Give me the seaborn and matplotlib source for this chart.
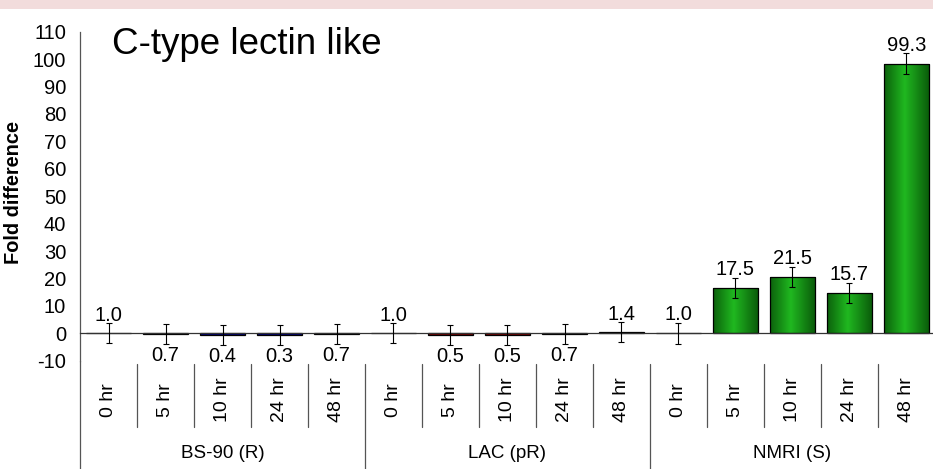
import numpy as np
import pandas as pd
import seaborn as sns
import matplotlib
matplotlib.use("Agg")
import matplotlib.pyplot as plt
from matplotlib import transforms
from matplotlib.patches import Rectangle
from matplotlib.lines import Line2D
from matplotlib.colors import LinearSegmentedColormap

# ---------------- data ----------------
groups = ["BS-90 (R)", "LAC (pR)", "NMRI (S)"]
times = ["0 hr", "5 hr", "10 hr", "24 hr", "48 hr"]
bs90_fold = [1.0, 0.7, 0.4, 0.3, 0.7]
lac_fold = [1.0, 0.5, 0.5, 0.7, 1.4]
nmri_fold = [1.0, 17.5, 21.5, 15.7, 99.3]
bs90_err = [3.7, 3.7, 3.7, 3.6, 3.7]
lac_err = [3.7, 3.7, 3.7, 3.7, 3.6]
nmri_err = [3.8, 3.7, 3.7, 3.7, 3.8]
title = "C-type lectin like"
ylabel = "Fold difference"
yticks = list(range(-10, 111, 10))

folds = bs90_fold + lac_fold + nmri_fold
errs = bs90_err + lac_err + nmri_err
df = pd.DataFrame({
    "group": [g for g in groups for _ in times],
    "time": times * len(groups),
    "fold": folds,
    "err": errs,
})
df["key"] = df["group"] + "|" + df["time"]
df["height"] = df["fold"] - 1.0   # bars drawn as change from baseline 1.0

# ---------------- figure ----------------
W, H = 933, 469
sns.set_style("white")
plt.rcParams["font.family"] = ["Liberation Sans", "DejaVu Sans"]
plt.rcParams["text.color"] = "black"
plt.rcParams["xtick.color"] = "black"
plt.rcParams["ytick.color"] = "black"
plt.rcParams["axes.labelcolor"] = "black"
fig = plt.figure(figsize=(W / 100, H / 100), dpi=100)
fig.patch.set_facecolor("white")
fig.patches.append(Rectangle((0, 1 - 9 / H), 1, 9 / H, transform=fig.transFigure,
                             facecolor="#f2dcdc", edgecolor="none", zorder=0))

ax_left, ax_top, ax_bot, cat_w = 80, 31.7, 360.7, 57.0
ax = fig.add_axes([ax_left / W, 1 - ax_bot / H, 15 * cat_w / W, (ax_bot - ax_top) / H])

palette = {"BS-90 (R)": "#000080", "LAC (pR)": "#800000", "NMRI (S)": "#1aa81a"}
sns.barplot(data=df, x="key", y="height", hue="group", palette=palette, dodge=False,
            width=0.8, saturation=1, errorbar=None, edgecolor="black", linewidth=0.9,
            legend=False, ax=ax)

ax.set_xlim(-0.5, 14.5)
ax.set_ylim(-10, 110)

# gradient fill for green bars
gcmap = LinearSegmentedColormap.from_list(
    "g", [(0, "#0c620c"), (0.45, "#20b820"), (1, "#0a5a0a")])
grad = np.linspace(0, 1, 64).reshape(1, -1)
xs = np.arange(len(df))
for p in ax.patches:
    fc = p.get_facecolor()
    if fc[1] > 0.5 and fc[0] < 0.3 and p.get_height() > 0:
        x0, y0 = p.get_x(), p.get_y()
        x1, y1 = x0 + p.get_width(), y0 + p.get_height()
        im = ax.imshow(grad, extent=[x0, x1, y0, y1], aspect="auto", cmap=gcmap,
                       zorder=p.get_zorder() - 0.05, interpolation="bilinear")
        im.set_clip_path(p)
        p.set_facecolor("none")
ax.set_xlim(-0.5, 14.5)
ax.set_ylim(-10, 110)
ax.set_aspect("auto")

# error bars
ax.errorbar(xs, df["height"], yerr=df["err"], fmt="none", ecolor="black",
            elinewidth=0.8, capsize=2.5, capthick=0.8, zorder=5)

# value labels
for i, (f, h, e) in enumerate(zip(df["fold"], df["height"], df["err"])):
    if h >= 0:
        ax.annotate(f"{f:.1f}", (i, h + e), xytext=(0, 1.8), textcoords="offset points",
                    ha="center", va="baseline", fontsize=14.5, zorder=6)
    else:
        ax.annotate(f"{f:.1f}", (i, h - e), xytext=(0, -1.5), textcoords="offset points",
                    ha="center", va="top", fontsize=14.5, zorder=6)

# axes styling
for s in ["top", "right"]:
    ax.spines[s].set_visible(False)
ax.spines["bottom"].set_position(("data", 0))
ax.spines["bottom"].set_color("#333333")
ax.spines["left"].set_color("#555555")
ax.spines["bottom"].set_linewidth(0.9)
ax.spines["left"].set_linewidth(0.9)
ax.set_xticks(np.arange(-0.5, 15, 1.0))
ax.set_xticklabels([])
ax.set_yticks(yticks)
ax.set_yticklabels([str(t) for t in yticks], fontsize=14.5)
ax.tick_params(axis="x", direction="out", length=4, width=0.8, color="#555555")
ax.tick_params(axis="y", direction="out", length=4.5, width=0.8, color="#555555", pad=5.5)
ax.set_xlabel("")
ax.set_ylabel("")

fig.text(14 / W, 1 - 192 / H, ylabel, rotation=90, ha="center", va="center",
         fontsize=14.4, fontweight="bold")
fig.text(112 / W, 1 - 54 / H, title, ha="left", va="baseline", fontsize=26.5)

# category axis below the plot
bt = transforms.blended_transform_factory(ax.transData, fig.transFigure)
def fy(px):
    return 1 - px / H

for i, t in enumerate(df["time"]):
    ax.text(i, fy(400), t, rotation=90, ha="center", va="center", fontsize=14,
            transform=bt, clip_on=False)
for gi, g in enumerate(groups):
    ax.text(gi * 5 + 2, fy(453), g, ha="center", va="center", fontsize=13.5,
            transform=bt, clip_on=False)
for b in np.arange(0.5, 14, 1.0):
    if abs((b + 0.5) % 5) < 1e-9:
        continue
    ax.add_line(Line2D([b, b], [fy(364), fy(427)], transform=bt, color="#555555",
                       lw=0.9, clip_on=False))
for b in [-0.5, 4.5, 9.5]:
    top = ax_bot if b < 0 else 364
    ax.add_line(Line2D([b, b], [fy(top), fy(H + 2)], transform=bt, color="#555555",
                       lw=0.9, clip_on=False))

fig.savefig("out.png", dpi=100)
